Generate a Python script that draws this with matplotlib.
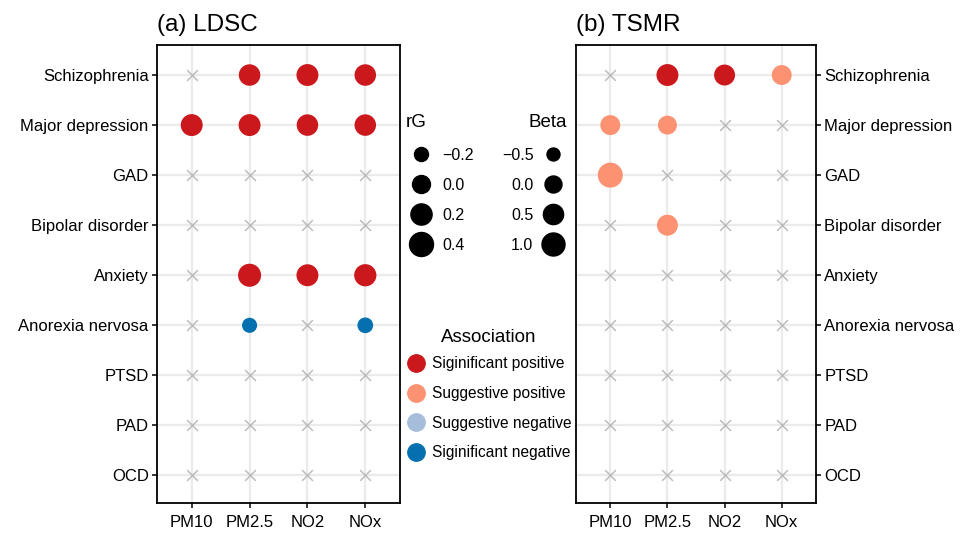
import numpy as np
import matplotlib
matplotlib.use("Agg")
import matplotlib.pyplot as plt
from matplotlib.lines import Line2D

plt.rcParams['font.family'] = ['Liberation Sans', 'DejaVu Sans']

traits = ["Schizophrenia", "Major depression", "GAD", "Bipolar disorder", "Anxiety",
          "Anorexia nervosa", "PTSD", "PAD", "OCD"]
exposures = ["PM10", "PM2.5", "NO2", "NOx"]
nan = np.nan

# (a) LDSC genetic correlation, nan = not significant
ldsc_rg = [
    [nan, 0.22, 0.25, 0.22],
    [0.25, 0.25, 0.22, 0.22],
    [nan, nan, nan, nan],
    [nan, nan, nan, nan],
    [nan, 0.33, 0.25, 0.27],
    [nan, -0.15, nan, -0.12],
    [nan, nan, nan, nan],
    [nan, nan, nan, nan],
    [nan, nan, nan, nan],
]
ldsc_assoc = [
    ["", "SP", "SP", "SP"],
    ["SP", "SP", "SP", "SP"],
    ["", "", "", ""],
    ["", "", "", ""],
    ["", "SP", "SP", "SP"],
    ["", "SN", "", "SN"],
    ["", "", "", ""],
    ["", "", "", ""],
    ["", "", "", ""],
]

# (b) TSMR beta
tsmr_beta = [
    [nan, 0.80, 0.63, 0.45],
    [0.45, 0.30, nan, nan],
    [1.40, nan, nan, nan],
    [nan, 0.63, nan, nan],
    [nan, nan, nan, nan],
    [nan, nan, nan, nan],
    [nan, nan, nan, nan],
    [nan, nan, nan, nan],
    [nan, nan, nan, nan],
]
tsmr_assoc = [
    ["", "SP", "SP", "GP"],
    ["GP", "GP", "", ""],
    ["GP", "", "", ""],
    ["", "GP", "", ""],
    ["", "", "", ""],
    ["", "", "", ""],
    ["", "", "", ""],
    ["", "", "", ""],
    ["", "", "", ""],
]

rg_breaks = [-0.2, 0.0, 0.2, 0.4]
beta_breaks = [-0.5, 0.0, 0.5, 1.0]

assoc_codes = ["SP", "GP", "GN", "SN"]
assoc_labels = ["Siginificant positive", "Suggestive positive",
                "Suggestive negative", "Siginificant negative"]
assoc_colors = {"SP": "#CB181D", "GP": "#FC9272", "GN": "#A6BDDB", "SN": "#0570B0"}

PX = 0.72  # points per pixel at dpi 100


def size_rg(v):
    return (323 + 633 * np.asarray(v)) * PX ** 2


def size_beta(v):
    return (289 + 240 * np.asarray(v)) * PX ** 2


fig = plt.figure(figsize=(9.61, 5.33), dpi=100)
ax_a = fig.add_axes([157 / 961, 1 - 503 / 533, 243 / 961, 458 / 533])
ax_b = fig.add_axes([576 / 961, 1 - 503 / 533, 240 / 961, 458 / 533])


def draw_panel(ax, vals, assoc, size_fn, title):
    vals = np.array(vals, dtype=float)
    ny, nx = vals.shape
    yy, xx = np.meshgrid(np.arange(ny), np.arange(nx), indexing="ij")
    ypos = ny - 1 - yy
    miss = np.isnan(vals)
    ax.scatter(xx[miss], ypos[miss], marker="x", s=60, color="#BDBDBD",
               linewidths=1.1, zorder=2)
    for code in assoc_codes:
        m = np.array([[a == code for a in row] for row in assoc])
        if m.any():
            ax.scatter(xx[m], ypos[m], s=size_fn(vals[m]), color=assoc_colors[code],
                       edgecolors="none", zorder=3)
    ax.set_xlim(-0.6, nx - 0.4)
    ax.set_ylim(-0.55, ny - 0.4)
    ax.set_xticks(range(nx))
    ax.set_xticklabels(exposures)
    ax.set_yticks(range(ny))
    ax.set_yticklabels(traits[::-1])
    ax.grid(True, color="#EBEBEB", linewidth=1.6, zorder=0)
    ax.set_axisbelow(True)
    for s in ax.spines.values():
        s.set_linewidth(1.3)
    ax.tick_params(length=3.5, width=1.1, labelsize=12, pad=2.5, colors="black")
    ax.tick_params(axis="x", pad=5)
    ax.set_title(title, loc="left", fontsize=17.5, pad=10)


draw_panel(ax_a, ldsc_rg, ldsc_assoc, size_rg, "(a) LDSC")
draw_panel(ax_b, tsmr_beta, tsmr_assoc, size_beta, "(b) TSMR")
ax_b.yaxis.tick_right()

# legends
rg_handles = [Line2D([], [], ls="", marker="o", color="black",
                     markersize=float(np.sqrt(size_rg(v)))) for v in rg_breaks]
leg_rg = fig.legend(rg_handles, [f"{v:.1f}".replace("-", "\u2212") for v in rg_breaks],
                    title="rG", loc="upper left", bbox_to_anchor=(406 / 961, 1 - 114 / 533),
                    frameon=False, fontsize=11.5, title_fontsize=13.5, alignment="left",
                    handlelength=1.9, handletextpad=0.4, labelspacing=0.94,
                    borderpad=0, borderaxespad=0)
leg_rg._legend_box.sep = 12

beta_handles = [Line2D([], [], ls="", marker="o", color="black",
                       markersize=float(np.sqrt(size_beta(v)))) for v in beta_breaks]
leg_beta = fig.legend(beta_handles, [f"{v:.1f}".replace("-", "\u2212") for v in beta_breaks],
                      title="Beta", loc="upper right", bbox_to_anchor=(567 / 961, 1 - 114 / 533),
                      frameon=False, fontsize=11.5, title_fontsize=13.5, alignment="right",
                      markerfirst=False, handlelength=1.7, handletextpad=0.4,
                      labelspacing=0.94, borderpad=0, borderaxespad=0)
leg_beta._legend_box.sep = 12

assoc_handles = [Line2D([], [], ls="", marker="o", color=assoc_colors[c], markersize=12.5)
                 for c in assoc_codes]
leg_assoc = fig.legend(assoc_handles, assoc_labels, title="Association", loc="upper left",
                       bbox_to_anchor=(406 / 961, 1 - 329 / 533), frameon=False,
                       fontsize=11.2, title_fontsize=13.5, handlelength=1.3,
                       handletextpad=0.4, labelspacing=0.94, borderpad=0, borderaxespad=0)
leg_assoc._legend_box.sep = 7.5

fig.savefig("out.png", dpi=100)
